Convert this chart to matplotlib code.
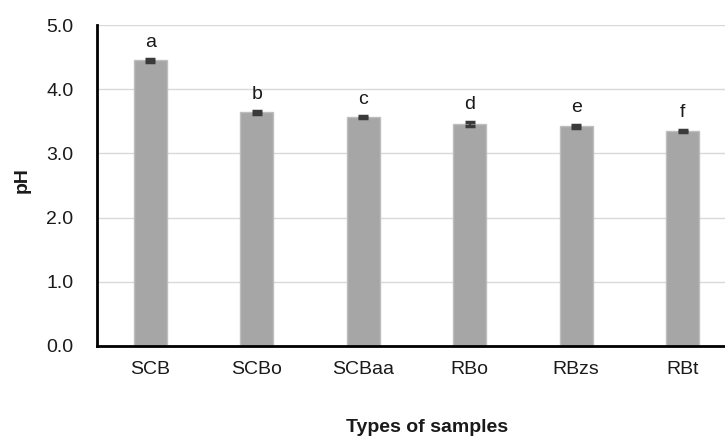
import matplotlib
matplotlib.use("Agg")
import matplotlib.pyplot as plt

categories = ["SCB", "SCBo", "SCBaa", "RBo", "RBzs", "RBt"]
ph_values = [4.45, 3.64, 3.56, 3.46, 3.42, 3.35]
ph_errors = [0.02, 0.02, 0.015, 0.03, 0.03, 0.02]
letters = ["a", "b", "c", "d", "e", "f"]
yticks = [0.0, 1.0, 2.0, 3.0, 4.0, 5.0]

plt.rcParams['font.family'] = ['Liberation Sans', 'DejaVu Sans']

W, H = 725, 438
fig = plt.figure(figsize=(W / 100, H / 100), dpi=100)
left, right, top, bottom = 97, 736, 25, 346
ax = fig.add_axes([left / W, 1 - bottom / H, (right - left) / W, (bottom - top) / H])

x = list(range(len(categories)))
ax.bar(x, ph_values, width=0.31, color="#A6A6A6", edgecolor="#BEBEBE", linewidth=1, zorder=3)
ax.errorbar(x, ph_values, yerr=ph_errors, fmt="none", ecolor="#3A3A3A",
            elinewidth=1.5, capsize=3.5, capthick=2.5, zorder=4)
for xi, v, e, lab in zip(x, ph_values, ph_errors, letters):
    ax.annotate(lab, (xi, v + e), xytext=(0, 9), textcoords="offset points",
                ha="center", va="baseline", fontsize=14, color="#1a1a1a")

ax.set_xlim(-0.5, len(categories) - 0.5)
ax.set_ylim(0, 5.0)
ax.set_yticks(yticks)
ax.set_yticklabels([f"{t:.1f}" for t in yticks])
ax.set_xticks(x)
ax.set_xticklabels(categories)
ax.tick_params(axis="both", length=0, labelsize=14, colors="#1a1a1a")
ax.tick_params(axis="y", pad=17)
ax.tick_params(axis="x", pad=11)
ax.yaxis.grid(True, color="#D9D9D9", linewidth=1, zorder=0)
ax.set_axisbelow(True)
for s in ["top", "right"]:
    ax.spines[s].set_visible(False)
for s in ["left", "bottom"]:
    ax.spines[s].set_color("black")
    ax.spines[s].set_linewidth(2)
    ax.spines[s].set_zorder(5)

fig.text(22 / W, 1 - 180 / H, "pH", rotation=90, ha="center", va="center",
         fontsize=14, fontweight="bold", color="#1a1a1a")
fig.text(427 / W, 1 - 428 / H, "Types of samples", ha="center", va="center",
         fontsize=14, fontweight="bold", color="#1a1a1a")

fig.savefig("out.png", dpi=100)
